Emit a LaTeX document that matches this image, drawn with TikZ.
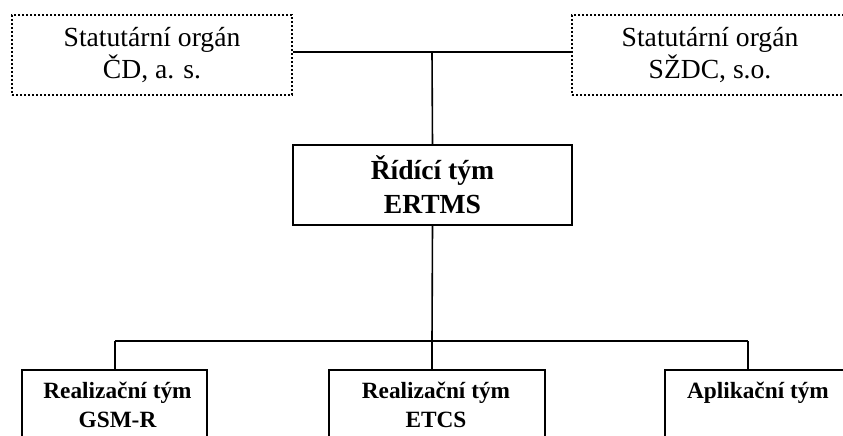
\documentclass[tikz,border=0pt]{standalone}
\usepackage{fontspec}
\setmainfont{Liberation Serif}
\begin{document}
\begin{tikzpicture}[x=1pt,y=-1pt,
  lw/.style={line width=1.6pt},
  dotbox/.style={draw, line width=1.8pt, dash pattern=on 1.8pt off 2.2pt, rectangle, inner sep=0pt},
  solidbox/.style={draw, lw, rectangle, inner sep=0pt},
  toptext/.style={align=center, font=\fontsize{27.6}{32}\selectfont},
  midtext/.style={align=center, font=\bfseries\fontsize{27.6}{34}\selectfont},
  bottext/.style={align=center, inner sep=0pt, font=\bfseries\fontsize{23.3}{29}\selectfont}]
\useasboundingbox (0,0) rectangle (843,436);
\clip (0,0) rectangle (843,436);
% top boxes
\node[dotbox, toptext, minimum width=280, minimum height=80] (cd) at (152,55) {Statutární orgán\\ČD, a. s.};
\node[dotbox, toptext, minimum width=276, minimum height=80] (szdc) at (710,55) {Statutární orgán\\SŽDC, s.o.};
% middle box
\node[solidbox, midtext, minimum width=279, minimum height=80] (rid) at (432.5,185) {Řídící tým\\ERTMS};
% bottom boxes
\node[solidbox, minimum width=185, minimum height=120, anchor=north] (gsm) at (114.5,369) {};
\node[solidbox, minimum width=216, minimum height=120, anchor=north] (etcs) at (437,369) {};
\node[solidbox, minimum width=186, minimum height=120, anchor=north] (apl) at (758,369) {};
\node[bottext, anchor=north] (gsmt) at (117.5,381.5) {Realizační tým\\GSM-R};
\node[bottext, anchor=north] (etcst) at (436,381.5) {Realizační tým\\ETCS};
\node[bottext, anchor=north] (aplt) at (758,381.5) {Aplikační tým};
% connectors
\coordinate (j1) at (432,52);
\coordinate (j2) at (432,341);
\coordinate (b1) at (115,341);
\coordinate (b3) at (748,341);
\draw[lw] (cd.east |- j1) -- (szdc.west |- j1);
\draw[lw] (j1) -- (rid.north);
\draw[lw] (rid.south) -- (j2);
\draw[lw] (b1) -- (b3);
\draw[lw] (b1) -- (b1 |- gsm.north);
\draw[lw] (j2) -- (j2 |- etcs.north);
\draw[lw] (b3) -- (b3 |- apl.north);
\end{tikzpicture}
\end{document}
